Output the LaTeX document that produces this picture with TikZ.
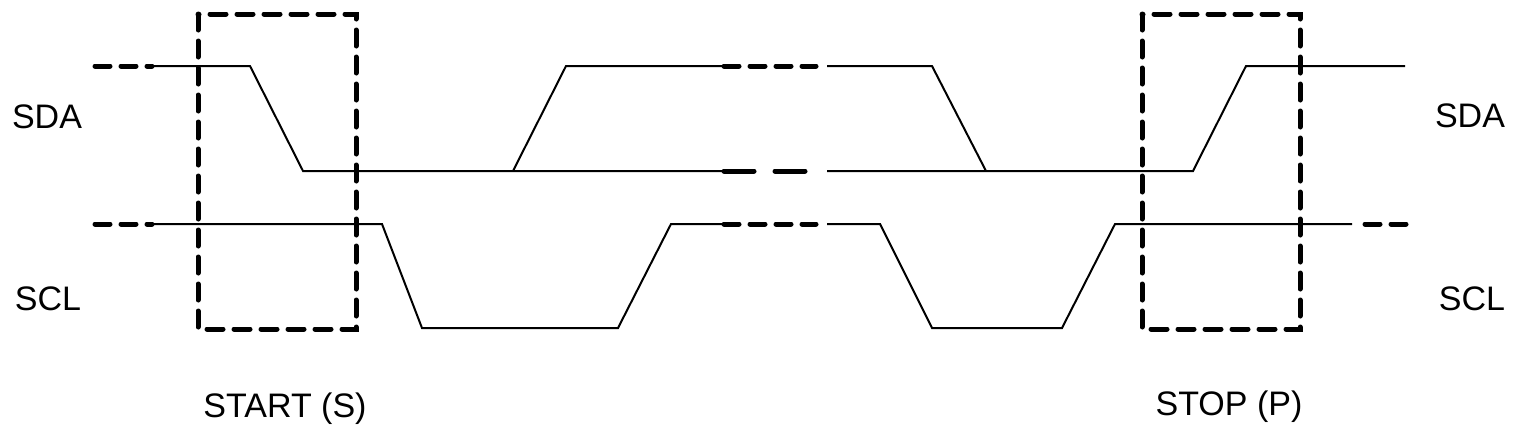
\documentclass[tikz,border=0pt]{standalone}
\usepackage{fontspec}
\setmainfont{Liberation Sans}
\usetikzlibrary{positioning}
\begin{document}
\begin{tikzpicture}[x=0.5pt,y=-0.5pt,declare function={sdah=66;sdal=171;sclh=224;scll=328;}]
		\tikzstyle{wire} = [line width=1pt,line join=miter]
		\tikzstyle{wiredash} = [line width=2.5pt,line cap=round,dash pattern=on 7.5pt off 5.5pt]
		\tikzstyle{wirelong} = [line width=2.5pt,line cap=round,dash pattern=on 15pt off 10.5pt]
		\tikzstyle{framebox} = [line width=2.5pt,line cap=round,dash pattern=on 8pt off 5.5pt]
		\tikzstyle{lbl} = [anchor=base,inner sep=0pt,font=\fontsize{17}{20}\selectfont]
		\useasboundingbox (0,0) rectangle (1515,429);
		\draw[wiredash] (95,sdah)--(152,sdah);
		\draw[wire] (152,sdah)--(250,sdah)--(303,sdal)--(722,sdal);
		\draw[wire] (513,sdal)--(566,sdah)--(722,sdah);
		\draw[wiredash] (724,sdah)--(816,sdah);
		\draw[wirelong] (724,sdal)--(808,sdal);
		\draw[wire] (827,sdah)--(932,sdah)--(986,sdal);
		\draw[wire] (827,sdal)--(1193,sdal)--(1246,sdah)--(1405,sdah);
		\draw[wiredash] (95,sclh)--(152,sclh);
		\draw[wire] (152,sclh)--(382,sclh)--(422,scll)--(618,scll)--(671,sclh)--(722,sclh);
		\draw[wiredash] (724,sclh)--(816,sclh);
		\draw[wire] (827,sclh)--(880,sclh)--(932,scll)--(1062,scll)--(1115,sclh)--(1352,sclh);
		\draw[wiredash] (1365,sclh)--(1406,sclh);
		\draw[framebox] (198,14) rectangle (356,329);
		\draw[framebox] (1142,14) rectangle (1300,329);
		\node[lbl] (sdaleft) at (47,128) {SDA};
		\node[lbl] (sclleft) at (48,310) {SCL};
		\node[lbl] (sdaright) at (1470,127) {SDA};
		\node[lbl] (sclright) at (1472,310) {SCL};
		\node[lbl] (startlbl) at (285,417) {START (S)};
		\node[lbl] (stoplbl) at (1229,415) {STOP (P)};
	\end{tikzpicture}
\end{document}
